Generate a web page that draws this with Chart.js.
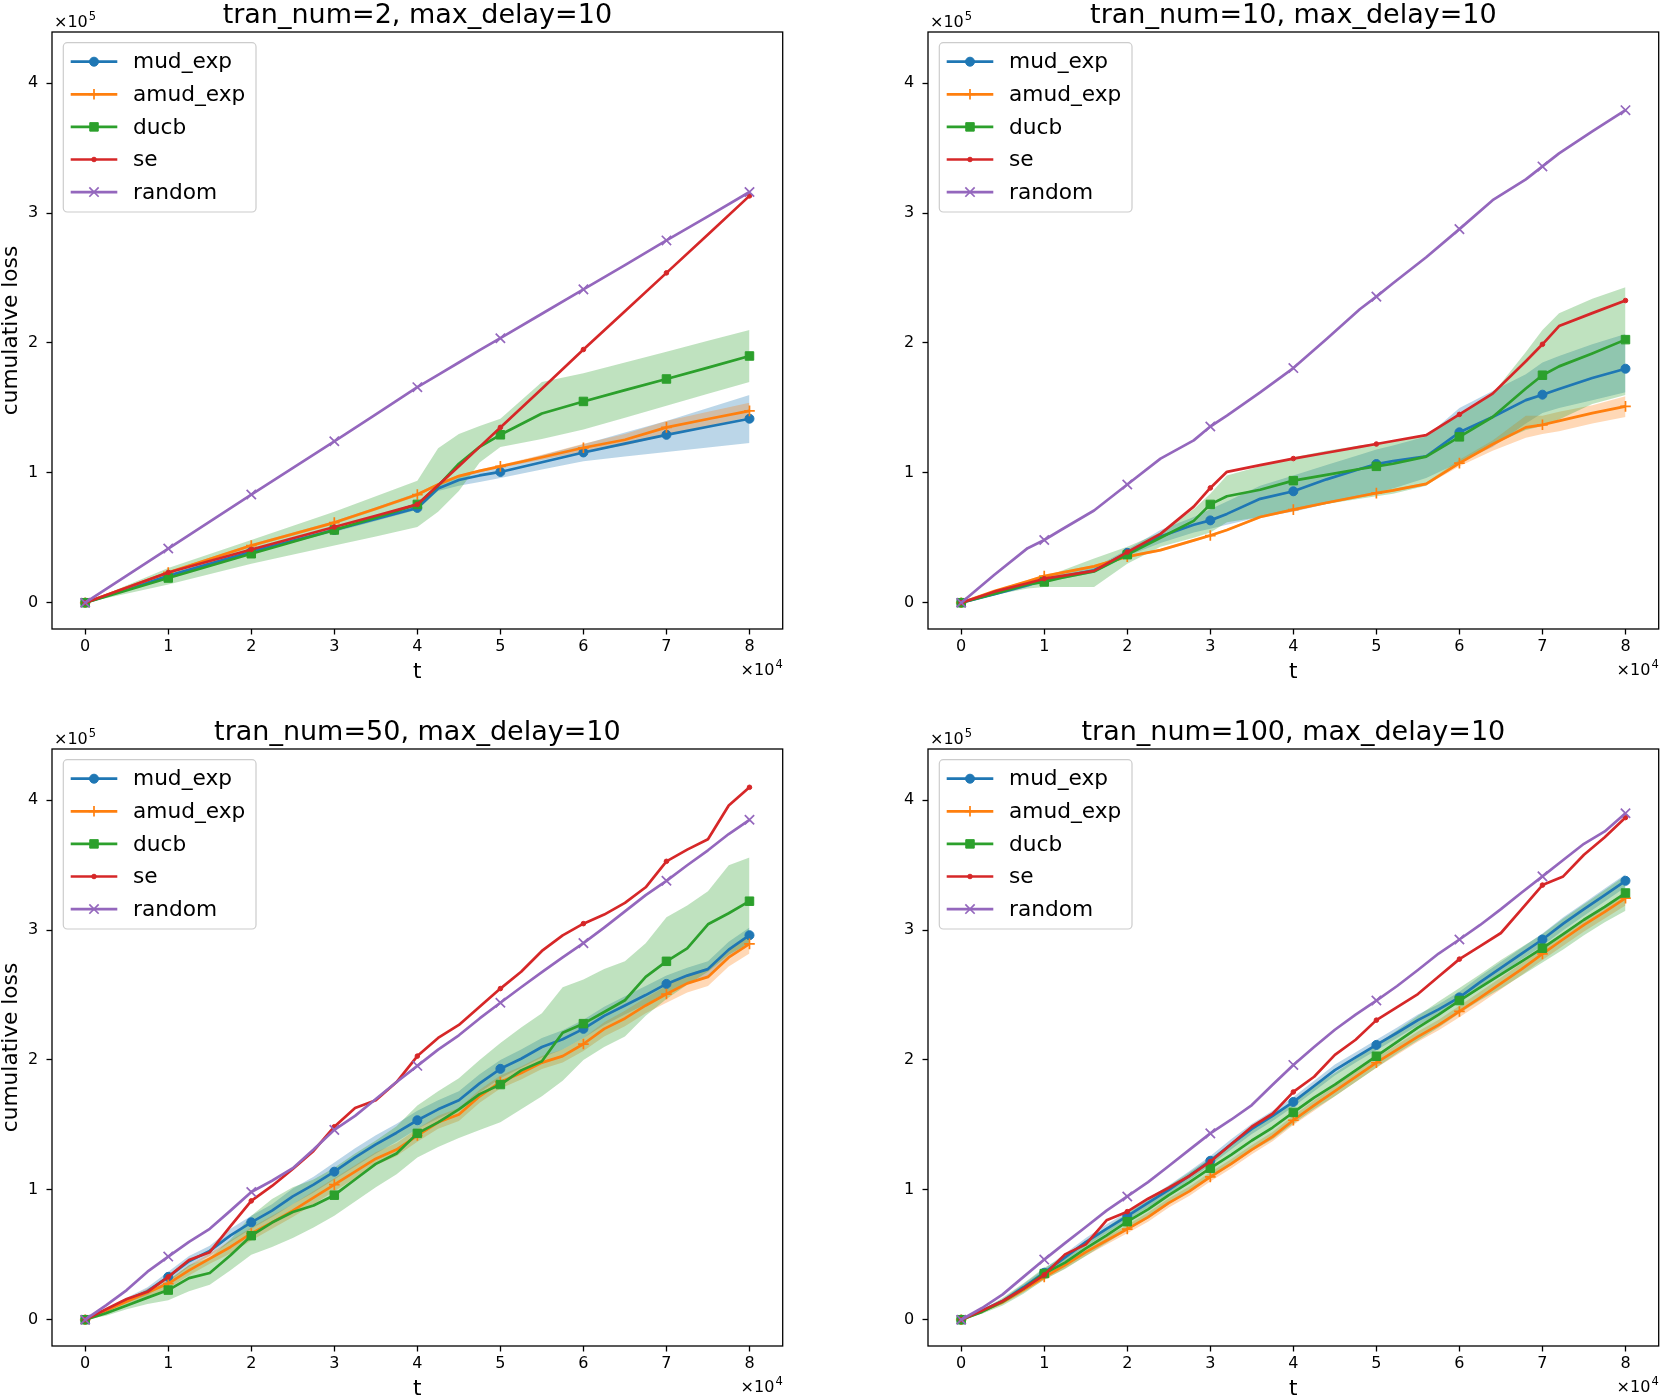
<!DOCTYPE html>
<html>
<head>
<meta charset="utf-8">
<script src="https://cdn.jsdelivr.net/npm/chart.js@4.4.1/dist/chart.umd.min.js"></script>
<style>
  html, body { margin: 0; padding: 0; background: #fff; }
  body { position: relative; width: 1661px; height: 1398px; overflow: hidden; }
  canvas { position: absolute; }
</style>
</head>
<body>
<canvas id="p1" width="800" height="690" style="left:0;top:0;width:800px;height:690px"></canvas>
<canvas id="p2" width="800" height="690" style="left:876px;top:0;width:800px;height:690px"></canvas>
<canvas id="p3" width="800" height="690" style="left:0;top:717px;width:800px;height:690px"></canvas>
<canvas id="p4" width="800" height="690" style="left:876px;top:717px;width:800px;height:690px"></canvas>
<script>
// t in units of 1e4, cumulative loss in units of 1e5
const SERIES_NAMES = ['mud_exp', 'amud_exp', 'ducb', 'se', 'random'];
const TITLES = ['tran_num=2, max_delay=10', 'tran_num=10, max_delay=10',
                'tran_num=50, max_delay=10', 'tran_num=100, max_delay=10'];
const X_TICKS = [0, 1, 2, 3, 4, 5, 6, 7, 8];
const Y_TICKS = [0, 1, 2, 3, 4];

// panel 1
const T1 = [0, 1, 2, 3, 3.5, 4, 4.25, 4.5, 4.75, 5, 5.5, 6, 6.5, 7, 7.5, 8];
const P1_MUD     = [0, 0.207, 0.393, 0.56, 0.645, 0.73, 0.88, 0.945, 0.98, 1.007, 1.082, 1.157, 1.225, 1.293, 1.355, 1.417];
const P1_MUD_LO  = [0, 0.195, 0.38, 0.545, 0.63, 0.715, 0.86, 0.90, 0.93, 0.96, 1.025, 1.09, 1.125, 1.16, 1.195, 1.23];
const P1_MUD_HI  = [0, 0.22, 0.405, 0.575, 0.66, 0.745, 0.90, 0.97, 1.02, 1.05, 1.135, 1.22, 1.31, 1.40, 1.50, 1.60];
const P1_AMUD    = [0, 0.233, 0.44, 0.617, 0.723, 0.833, 0.91, 0.975, 1.015, 1.05, 1.12, 1.193, 1.255, 1.35, 1.415, 1.477];
const P1_AMUD_LO = [0, 0.223, 0.428, 0.605, 0.71, 0.82, 0.90, 0.965, 1.005, 1.04, 1.10, 1.16, 1.21, 1.29, 1.36, 1.43];
const P1_AMUD_HI = [0, 0.243, 0.452, 0.629, 0.736, 0.846, 0.92, 0.985, 1.025, 1.06, 1.14, 1.225, 1.30, 1.40, 1.47, 1.54];
const P1_DUCB    = [0, 0.19, 0.377, 0.56, 0.655, 0.757, 0.90, 1.07, 1.20, 1.293, 1.457, 1.55, 1.637, 1.723, 1.81, 1.90];
const P1_DUCB_LO = [0, 0.14, 0.30, 0.44, 0.51, 0.583, 0.70, 0.86, 1.08, 1.20, 1.26, 1.333, 1.425, 1.517, 1.61, 1.70];
const P1_DUCB_HI = [0, 0.267, 0.483, 0.70, 0.82, 0.94, 1.19, 1.30, 1.36, 1.417, 1.70, 1.767, 1.85, 1.933, 2.017, 2.10];
const P1_SE      = [0, 0.233, 0.41, 0.583, 0.67, 0.757, 0.905, 1.05, 1.20, 1.35, 1.647, 1.95, 2.245, 2.54, 2.835, 3.133];
const P1_RANDOM  = [0, 0.417, 0.833, 1.243, 1.45, 1.66, 1.755, 1.85, 1.945, 2.037, 2.225, 2.413, 2.60, 2.79, 2.975, 3.163];

// panel 2
const T2 = [0, 0.4, 0.8, 1, 1.2, 1.6, 2, 2.4, 2.8, 3, 3.2, 3.6, 4, 4.4, 4.8, 5, 5.2, 5.6, 6, 6.4, 6.8, 7, 7.2, 7.6, 8];
const P2_MUD     = [0, 0.065, 0.134, 0.177, 0.20, 0.25, 0.384, 0.51, 0.60, 0.634, 0.684, 0.80, 0.858, 0.95, 1.03, 1.068, 1.09, 1.128, 1.312, 1.43, 1.56, 1.602, 1.646, 1.73, 1.802];
const P2_MUD_LO  = [0, 0.055, 0.12, 0.16, 0.18, 0.23, 0.36, 0.46, 0.54, 0.57, 0.60, 0.66, 0.70, 0.76, 0.82, 0.85, 0.88, 0.96, 1.08, 1.20, 1.38, 1.46, 1.50, 1.56, 1.62];
const P2_MUD_HI  = [0, 0.075, 0.15, 0.19, 0.22, 0.27, 0.41, 0.56, 0.66, 0.72, 0.78, 0.90, 0.98, 1.06, 1.14, 1.18, 1.21, 1.28, 1.50, 1.63, 1.76, 1.85, 1.90, 1.99, 2.07];
const P2_AMUD    = [0, 0.09, 0.165, 0.205, 0.23, 0.28, 0.355, 0.405, 0.48, 0.517, 0.56, 0.66, 0.717, 0.77, 0.82, 0.844, 0.865, 0.915, 1.075, 1.22, 1.35, 1.37, 1.40, 1.46, 1.512];
const P2_AMUD_LO = [0, 0.085, 0.155, 0.195, 0.22, 0.27, 0.345, 0.395, 0.47, 0.507, 0.55, 0.65, 0.707, 0.76, 0.81, 0.834, 0.855, 0.905, 1.05, 1.17, 1.27, 1.30, 1.32, 1.38, 1.43];
const P2_AMUD_HI = [0, 0.095, 0.175, 0.215, 0.24, 0.29, 0.365, 0.415, 0.49, 0.527, 0.57, 0.67, 0.727, 0.78, 0.83, 0.854, 0.875, 0.925, 1.10, 1.25, 1.44, 1.44, 1.47, 1.52, 1.59];
const P2_DUCB    = [0, 0.07, 0.14, 0.16, 0.19, 0.24, 0.37, 0.50, 0.63, 0.757, 0.82, 0.87, 0.94, 0.985, 1.03, 1.05, 1.07, 1.125, 1.277, 1.43, 1.65, 1.752, 1.82, 1.92, 2.026];
const P2_DUCB_LO = [0, 0.06, 0.11, 0.12, 0.12, 0.12, 0.30, 0.43, 0.50, 0.54, 0.62, 0.66, 0.72, 0.76, 0.80, 0.82, 0.84, 0.90, 1.08, 1.22, 1.33, 1.36, 1.41, 1.53, 1.60];
const P2_DUCB_HI = [0, 0.08, 0.17, 0.20, 0.245, 0.34, 0.43, 0.54, 0.72, 0.84, 0.98, 1.05, 1.12, 1.17, 1.21, 1.23, 1.25, 1.29, 1.44, 1.61, 1.93, 2.10, 2.23, 2.34, 2.43];
const P2_SE      = [0, 0.085, 0.15, 0.185, 0.205, 0.245, 0.39, 0.53, 0.74, 0.884, 1.008, 1.06, 1.11, 1.155, 1.20, 1.222, 1.245, 1.29, 1.45, 1.61, 1.86, 1.99, 2.13, 2.23, 2.327];
const P2_RANDOM  = [0, 0.215, 0.42, 0.483, 0.56, 0.71, 0.91, 1.11, 1.25, 1.357, 1.44, 1.62, 1.807, 2.03, 2.26, 2.357, 2.46, 2.66, 2.877, 3.10, 3.26, 3.36, 3.46, 3.63, 3.793];

// panels 3 and 4 share a finer t grid
const T_FINE = [0, 0.25, 0.5, 0.75, 1, 1.25, 1.5, 1.75, 2, 2.25, 2.5, 2.75, 3, 3.25, 3.5, 3.75, 4,
                4.25, 4.5, 4.75, 5, 5.25, 5.5, 5.75, 6, 6.25, 6.5, 6.75, 7, 7.25, 7.5, 7.75, 8];

// panel 3
const P3_MUD     = [0, 0.07, 0.15, 0.22, 0.33, 0.45, 0.53, 0.65, 0.75, 0.84, 0.95, 1.04, 1.14, 1.25, 1.35, 1.44, 1.536, 1.62, 1.69, 1.82, 1.932, 2.01, 2.10, 2.16, 2.24, 2.34, 2.42, 2.50, 2.586, 2.65, 2.70, 2.85, 2.961];
const P3_MUD_LO  = [0, 0.06, 0.13, 0.19, 0.29, 0.41, 0.49, 0.60, 0.70, 0.79, 0.89, 0.98, 1.08, 1.18, 1.28, 1.37, 1.47, 1.55, 1.62, 1.75, 1.86, 1.94, 2.02, 2.08, 2.17, 2.27, 2.35, 2.43, 2.52, 2.59, 2.64, 2.79, 2.91];
const P3_MUD_HI  = [0, 0.08, 0.17, 0.25, 0.37, 0.49, 0.57, 0.70, 0.80, 0.89, 1.01, 1.10, 1.21, 1.32, 1.42, 1.51, 1.61, 1.69, 1.76, 1.89, 2.00, 2.08, 2.17, 2.23, 2.31, 2.41, 2.49, 2.57, 2.65, 2.71, 2.76, 2.91, 3.02];
const P3_AMUD    = [0, 0.07, 0.14, 0.21, 0.278, 0.38, 0.47, 0.56, 0.664, 0.75, 0.84, 0.94, 1.04, 1.14, 1.24, 1.31, 1.418, 1.52, 1.58, 1.72, 1.831, 1.90, 1.98, 2.03, 2.123, 2.24, 2.32, 2.42, 2.508, 2.59, 2.64, 2.79, 2.894];
const P3_AMUD_LO = [0, 0.06, 0.12, 0.18, 0.24, 0.34, 0.43, 0.51, 0.61, 0.70, 0.79, 0.89, 0.99, 1.09, 1.19, 1.26, 1.37, 1.47, 1.53, 1.67, 1.78, 1.85, 1.93, 1.98, 2.07, 2.18, 2.26, 2.36, 2.44, 2.52, 2.57, 2.72, 2.82];
const P3_AMUD_HI = [0, 0.08, 0.16, 0.24, 0.31, 0.42, 0.51, 0.61, 0.71, 0.80, 0.89, 0.99, 1.09, 1.19, 1.29, 1.36, 1.47, 1.57, 1.63, 1.77, 1.88, 1.95, 2.03, 2.08, 2.17, 2.29, 2.38, 2.48, 2.57, 2.66, 2.71, 2.86, 2.96];
const P3_DUCB    = [0, 0.05, 0.11, 0.17, 0.228, 0.32, 0.36, 0.496, 0.647, 0.748, 0.83, 0.88, 0.959, 1.08, 1.20, 1.28, 1.435, 1.52, 1.62, 1.737, 1.811, 1.92, 1.99, 2.21, 2.28, 2.37, 2.46, 2.64, 2.76, 2.86, 3.045, 3.13, 3.223];
const P3_DUCB_LO = [0, 0.03, 0.08, 0.12, 0.15, 0.22, 0.27, 0.38, 0.50, 0.56, 0.63, 0.71, 0.80, 0.91, 1.02, 1.12, 1.25, 1.33, 1.40, 1.46, 1.52, 1.62, 1.72, 1.84, 2.00, 2.10, 2.18, 2.34, 2.47, 2.58, 2.68, 2.81, 2.90];
const P3_DUCB_HI = [0, 0.06, 0.13, 0.21, 0.30, 0.42, 0.48, 0.62, 0.80, 0.93, 1.02, 1.08, 1.17, 1.28, 1.38, 1.49, 1.65, 1.76, 1.86, 2.00, 2.13, 2.25, 2.36, 2.56, 2.62, 2.70, 2.76, 2.90, 3.10, 3.19, 3.30, 3.50, 3.56];
const P3_SE      = [0, 0.08, 0.16, 0.215, 0.33, 0.46, 0.52, 0.72, 0.915, 1.03, 1.16, 1.30, 1.486, 1.63, 1.69, 1.83, 2.03, 2.17, 2.27, 2.41, 2.55, 2.68, 2.84, 2.96, 3.05, 3.12, 3.21, 3.33, 3.53, 3.62, 3.70, 3.96, 4.10];
const P3_RANDOM  = [0, 0.11, 0.228, 0.37, 0.486, 0.60, 0.70, 0.84, 0.983, 1.07, 1.167, 1.31, 1.462, 1.57, 1.70, 1.83, 1.955, 2.08, 2.19, 2.32, 2.441, 2.56, 2.676, 2.79, 2.90, 3.02, 3.145, 3.27, 3.38, 3.50, 3.615, 3.74, 3.85];

// panel 4
const P4_MUD     = [0, 0.07, 0.144, 0.25, 0.362, 0.48, 0.597, 0.70, 0.798, 0.90, 1.0, 1.11, 1.224, 1.35, 1.469, 1.57, 1.677, 1.80, 1.922, 2.02, 2.116, 2.21, 2.307, 2.39, 2.482, 2.60, 2.71, 2.82, 2.928, 3.05, 3.162, 3.27, 3.38];
const P4_MUD_LO  = [0, 0.06, 0.125, 0.225, 0.335, 0.45, 0.565, 0.665, 0.765, 0.865, 0.965, 1.075, 1.19, 1.31, 1.43, 1.53, 1.64, 1.76, 1.88, 1.98, 2.075, 2.17, 2.265, 2.35, 2.44, 2.555, 2.665, 2.775, 2.88, 3.0, 3.11, 3.22, 3.33];
const P4_MUD_HI  = [0, 0.08, 0.16, 0.275, 0.39, 0.51, 0.63, 0.735, 0.83, 0.935, 1.035, 1.145, 1.26, 1.39, 1.51, 1.61, 1.715, 1.84, 1.965, 2.06, 2.155, 2.25, 2.35, 2.43, 2.525, 2.645, 2.755, 2.865, 2.975, 3.10, 3.21, 3.32, 3.43];
const P4_AMUD    = [0, 0.065, 0.135, 0.23, 0.329, 0.42, 0.52, 0.61, 0.698, 0.79, 0.90, 0.99, 1.10, 1.20, 1.31, 1.41, 1.536, 1.65, 1.76, 1.87, 1.979, 2.08, 2.18, 2.27, 2.374, 2.48, 2.59, 2.70, 2.817, 2.93, 3.04, 3.14, 3.246];
const P4_AMUD_LO = [0, 0.055, 0.12, 0.21, 0.305, 0.395, 0.49, 0.58, 0.665, 0.755, 0.865, 0.955, 1.065, 1.165, 1.275, 1.375, 1.50, 1.61, 1.72, 1.83, 1.94, 2.04, 2.14, 2.23, 2.33, 2.435, 2.545, 2.655, 2.77, 2.88, 2.99, 3.09, 3.19];
const P4_AMUD_HI = [0, 0.075, 0.15, 0.25, 0.353, 0.445, 0.55, 0.64, 0.73, 0.825, 0.935, 1.025, 1.135, 1.235, 1.345, 1.445, 1.572, 1.69, 1.80, 1.91, 2.018, 2.12, 2.22, 2.31, 2.418, 2.525, 2.635, 2.745, 2.864, 2.98, 3.09, 3.19, 3.30];
const P4_DUCB    = [0, 0.06, 0.14, 0.24, 0.355, 0.44, 0.55, 0.65, 0.755, 0.85, 0.96, 1.06, 1.167, 1.27, 1.38, 1.48, 1.596, 1.71, 1.81, 1.92, 2.029, 2.14, 2.25, 2.35, 2.458, 2.56, 2.66, 2.76, 2.861, 2.97, 3.08, 3.18, 3.286];
const P4_DUCB_LO = [0, 0.045, 0.11, 0.20, 0.31, 0.39, 0.49, 0.59, 0.69, 0.78, 0.89, 0.985, 1.09, 1.19, 1.30, 1.39, 1.51, 1.62, 1.72, 1.83, 1.94, 2.05, 2.15, 2.25, 2.36, 2.46, 2.55, 2.65, 2.75, 2.85, 2.96, 3.06, 3.15];
const P4_DUCB_HI = [0, 0.075, 0.17, 0.28, 0.40, 0.49, 0.61, 0.71, 0.82, 0.92, 1.03, 1.135, 1.245, 1.35, 1.46, 1.57, 1.68, 1.80, 1.90, 2.01, 2.12, 2.23, 2.34, 2.45, 2.555, 2.66, 2.77, 2.87, 2.97, 3.09, 3.20, 3.31, 3.42];
const P4_SE      = [0, 0.07, 0.144, 0.24, 0.345, 0.503, 0.58, 0.765, 0.832, 0.932, 1.016, 1.107, 1.217, 1.351, 1.486, 1.586, 1.754, 1.871, 2.04, 2.156, 2.307, 2.408, 2.508, 2.643, 2.777, 2.877, 2.978, 3.162, 3.347, 3.414, 3.581, 3.716, 3.867];
const P4_RANDOM  = [0, 0.09, 0.195, 0.33, 0.463, 0.59, 0.714, 0.84, 0.949, 1.06, 1.184, 1.31, 1.435, 1.54, 1.653, 1.81, 1.962, 2.10, 2.233, 2.35, 2.458, 2.57, 2.693, 2.82, 2.928, 3.04, 3.162, 3.29, 3.414, 3.54, 3.665, 3.76, 3.90];

// styling
const COLORS = ['#1f77b4', '#ff7f0e', '#2ca02c', '#d62728', '#9467bd'];
const MARKERS = [
    { style: 'circle', r: 4.5, bw: 1 },
    { style: 'cross', r: 5.3, bw: 1.7 },
    { style: 'rect', r: 6, bw: 1 },
    { style: 'circle', r: 2.3, bw: 1 },
    { style: 'crossRot', r: 6.6, bw: 1.7 }
];
const LINE_W = 2.7;
const FONT = 'DejaVu Sans';

Chart.defaults.font.family = FONT;
Chart.defaults.color = '#000';

const rgba = (hex, a) => {
    const n = parseInt(hex.slice(1), 16);
    return `rgba(${n >> 16},${(n >> 8) & 255},${n & 255},${a})`;
};
const toPoints = (t, v) => t.map((x, i) => ({ x: x, y: v[i] }));

// draws "×10^k" as matplotlib's offset text
const drawOffset = (ctx, x, baseline, exp, align) => {
    ctx.font = `16px "${FONT}"`;
    const base = '\u00d710';
    const wb = ctx.measureText(base).width;
    ctx.font = `11.5px "${FONT}"`;
    const we = ctx.measureText(exp).width;
    const left = align === 'right' ? x - wb - we - 1 : x;
    ctx.textAlign = 'left';
    ctx.textBaseline = 'alphabetic';
    ctx.font = `16px "${FONT}"`;
    ctx.fillText(base, left, baseline);
    ctx.font = `11.5px "${FONT}"`;
    ctx.fillText(exp, left + wb + 1, baseline - 7);
};

const panelDecor = {
    id: 'panelDecor',
    afterDatasetsDraw(chart, args, opts) {
        const { ctx, chartArea: a } = chart;
        ctx.save();
        // axes frame
        ctx.strokeStyle = '#000';
        ctx.lineWidth = 1.3;
        ctx.strokeRect(a.left, a.top, a.right - a.left, a.bottom - a.top);

        // title
        ctx.fillStyle = '#000';
        ctx.font = `27px "${FONT}"`;
        ctx.textAlign = 'center';
        ctx.textBaseline = 'alphabetic';
        ctx.fillText(opts.title, (a.left + a.right) / 2, a.top - 9.5);

        drawOffset(ctx, a.left + 2, a.top - 5.3, '5', 'left');
        drawOffset(ctx, a.right, a.bottom + 46, '4', 'right');

        // legend box, upper left
        const lx = a.left + 11.3, ly = a.top + 10.7;
        ctx.beginPath();
        ctx.roundRect(lx, ly, 192.7, 169.3, 4);
        ctx.fillStyle = 'rgba(255,255,255,0.8)';
        ctx.fill();
        ctx.strokeStyle = '#cccccc';
        ctx.lineWidth = 1.2;
        ctx.stroke();

        SERIES_NAMES.forEach((name, i) => {
            const y = a.top + 29.7 + i * 32.6;
            ctx.strokeStyle = COLORS[i];
            ctx.lineWidth = LINE_W;
            ctx.beginPath();
            ctx.moveTo(a.left + 18.7, y);
            ctx.lineTo(a.left + 65.3, y);
            ctx.stroke();

            const m = MARKERS[i];
            ctx.fillStyle = COLORS[i];
            ctx.lineWidth = m.bw;
            Chart.helpers.drawPoint(ctx, { pointStyle: m.style, radius: m.r, borderWidth: m.bw, rotation: 0 }, a.left + 42, y);

            ctx.fillStyle = '#000';
            ctx.font = `21.7px "${FONT}"`;
            ctx.textAlign = 'left';
            ctx.textBaseline = 'middle';
            ctx.fillText(name, a.left + 81, y + 1);
        });
        ctx.restore();
    }
};

// build datasets: bands behind, then lines with markers every 1e4
const buildDatasets = (t, lines, bands) => {
    const ds = [];
    bands.forEach(([k, lo, hi]) => {
        const base = { borderWidth: 0, borderColor: 'transparent', pointRadius: 0, order: 13 - k };
        ds.push({ ...base, data: toPoints(t, lo), fill: false });
        ds.push({ ...base, data: toPoints(t, hi), fill: '-1', backgroundColor: rgba(COLORS[k], 0.3) });
    });
    lines.forEach((v, i) => {
        const m = MARKERS[i];
        ds.push({
            label: SERIES_NAMES[i],
            data: toPoints(t, v),
            borderColor: COLORS[i],
            backgroundColor: COLORS[i],
            borderWidth: LINE_W,
            borderJoinStyle: 'round',
            fill: false,
            tension: 0,
            pointStyle: m.style,
            pointBorderWidth: m.bw,
            pointBackgroundColor: COLORS[i],
            pointBorderColor: COLORS[i],
            pointRadius: (c) => (c.raw && X_TICKS.includes(c.raw.x) ? m.r : 0),
            order: 5 - i
        });
    });
    return ds;
};

const makePanel = (id, title, t, lines, bands, showYLabel) => {
    new Chart(document.getElementById(id), {
        type: 'line',
        data: { datasets: buildDatasets(t, lines, bands) },
        plugins: [panelDecor],
        options: {
            responsive: false,
            animation: false,
            events: [],
            layout: { padding: { left: 0, right: 17.3, top: 32, bottom: 5 } },
            plugins: {
                legend: { display: false },
                tooltip: { enabled: false },
                panelDecor: { title: title }
            },
            scales: {
                x: {
                    type: 'linear',
                    min: -0.4,
                    max: 8.4,
                    afterFit: (s) => { s.height = 56; },
                    ticks: {
                        stepSize: 1,
                        includeBounds: false,
                        padding: 3,
                        font: { size: 16 },
                        color: '#000',
                        callback: (v) => (X_TICKS.includes(v) ? String(v) : '')
                    },
                    grid: { drawOnChartArea: false, drawTicks: true, tickLength: 5.5, tickColor: '#000', tickWidth: 1.3 },
                    border: { display: false },
                    title: { display: true, text: 't', font: { size: 21.7 }, color: '#000', padding: { top: 0, bottom: 0 } }
                },
                y: {
                    type: 'linear',
                    min: -0.2025,
                    max: 4.395,
                    afterFit: (s) => { s.width = 52; },
                    ticks: {
                        stepSize: 1,
                        includeBounds: false,
                        padding: 8.2,
                        font: { size: 16 },
                        color: '#000',
                        callback: (v) => (Y_TICKS.includes(v) ? String(v) : '')
                    },
                    grid: { drawOnChartArea: false, drawTicks: true, tickLength: 5.5, tickColor: '#000', tickWidth: 1.3 },
                    border: { display: false },
                    title: { display: showYLabel, text: 'cumulative loss', font: { size: 21.7 }, color: '#000', padding: { top: -2, bottom: 0 } }
                }
            }
        }
    });
};

makePanel('p1', TITLES[0], T1,
    [P1_MUD, P1_AMUD, P1_DUCB, P1_SE, P1_RANDOM],
    [[0, P1_MUD_LO, P1_MUD_HI], [1, P1_AMUD_LO, P1_AMUD_HI], [2, P1_DUCB_LO, P1_DUCB_HI]], true);
makePanel('p2', TITLES[1], T2,
    [P2_MUD, P2_AMUD, P2_DUCB, P2_SE, P2_RANDOM],
    [[0, P2_MUD_LO, P2_MUD_HI], [1, P2_AMUD_LO, P2_AMUD_HI], [2, P2_DUCB_LO, P2_DUCB_HI]], false);
makePanel('p3', TITLES[2], T_FINE,
    [P3_MUD, P3_AMUD, P3_DUCB, P3_SE, P3_RANDOM],
    [[0, P3_MUD_LO, P3_MUD_HI], [1, P3_AMUD_LO, P3_AMUD_HI], [2, P3_DUCB_LO, P3_DUCB_HI]], true);
makePanel('p4', TITLES[3], T_FINE,
    [P4_MUD, P4_AMUD, P4_DUCB, P4_SE, P4_RANDOM],
    [[0, P4_MUD_LO, P4_MUD_HI], [1, P4_AMUD_LO, P4_AMUD_HI], [2, P4_DUCB_LO, P4_DUCB_HI]], false);
</script>
</body>
</html>
